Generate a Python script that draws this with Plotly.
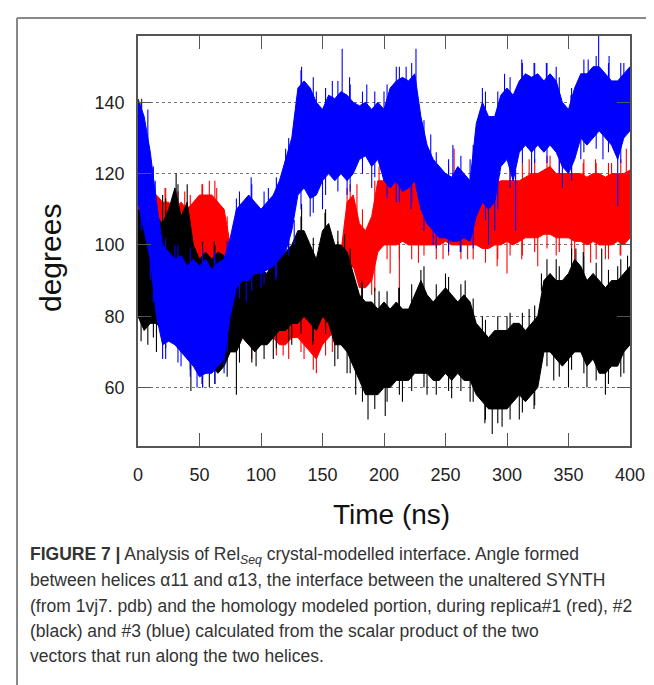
import plotly.graph_objects as go

# time grid (ns) and envelopes, every 5 ns
time_ns = list(range(0, 401, 5))

red_hi = [118, 120, 116, 114, 112, 112, 110, 112, 110, 112, 114, 114, 114, 112, 110, 100,
          96, 94, 92, 92, 92, 90, 88, 88, 88, 90, 90, 88, 86, 84, 88, 94,
          96, 98, 112, 114, 106, 104, 108, 118, 118, 117, 118, 118, 118, 118, 116, 116,
          118, 118, 118, 118, 118, 117, 118, 116, 116, 116, 117, 118, 118, 118, 118, 119,
          120, 120, 121, 122, 120, 120, 120, 120, 120, 119, 120, 120, 119, 120, 120, 120, 121]
red_lo = [100, 98, 94, 92, 92, 92, 90, 90, 88, 92, 94, 94, 94, 94, 92, 80,
          76, 74, 72, 74, 76, 76, 74, 72, 72, 74, 74, 72, 70, 68, 72, 74,
          76, 78, 92, 94, 88, 88, 90, 98, 100, 100, 100, 101, 100, 100, 100, 100,
          100, 100, 101, 100, 100, 100, 100, 100, 99, 99, 100, 100, 101, 100, 101, 102,
          102, 102, 103, 103, 102, 102, 102, 101, 101, 100, 101, 100, 100, 100, 101, 100, 102]

black_hi = [110, 108, 112, 108, 106, 110, 116, 108, 112, 100, 96, 98, 96, 98, 97, 94,
            92, 94, 92, 92, 93, 92, 96, 98, 98, 100, 104, 104, 100, 96, 104, 106,
            100, 100, 98, 92, 86, 84, 84, 82, 84, 82, 84, 82, 82, 86, 90, 86,
            84, 86, 88, 86, 84, 86, 84, 78, 76, 74, 76, 76, 76, 78, 78, 76,
            78, 80, 90, 92, 90, 90, 92, 96, 94, 90, 92, 90, 88, 90, 90, 92, 94]
black_lo = [80, 76, 78, 78, 76, 74, 76, 74, 72, 66, 64, 64, 66, 64, 66, 70,
            70, 74, 72, 70, 72, 72, 74, 76, 76, 78, 78, 80, 78, 76, 80, 78,
            72, 72, 70, 66, 62, 58, 58, 58, 60, 60, 62, 62, 62, 64, 64, 64,
            62, 62, 64, 62, 64, 62, 62, 58, 56, 54, 54, 54, 54, 56, 58, 56,
            58, 60, 70, 70, 68, 66, 68, 70, 70, 66, 68, 64, 64, 66, 66, 70, 72]

blue_hi = [141, 136, 126, 112, 100, 98, 96, 97, 94, 96, 94, 96, 93, 95, 96, 102,
           110, 112, 114, 112, 110, 112, 114, 118, 124, 130, 144, 146, 144, 140, 138, 142,
           141, 143, 142, 140, 139, 140, 138, 140, 138, 144, 146, 147, 146, 148, 136, 128,
           124, 122, 120, 119, 122, 120, 118, 134, 140, 136, 136, 142, 144, 142, 146, 148,
           147, 148, 146, 148, 146, 140, 138, 144, 148, 148, 150, 150, 148, 146, 146, 148, 150]
blue_lo = [112, 104, 96, 80, 72, 73, 72, 70, 68, 66, 63, 64, 64, 66, 68, 80,
           88, 90, 90, 92, 92, 93, 94, 96, 98, 104, 114, 116, 113, 114, 118, 120,
           118, 120, 118, 120, 124, 125, 122, 124, 118, 116, 118, 115, 116, 118, 110, 106,
           104, 102, 102, 101, 101, 102, 101, 108, 112, 110, 112, 122, 124, 118, 126, 128,
           126, 128, 126, 128, 126, 122, 120, 124, 130, 128, 130, 132, 130, 128, 124, 130, 132]

# isolated excursions beyond each band: time (ns) and tip value (degrees)
red_up_t = [2, 8, 22, 38, 52, 58, 64, 170, 178, 196, 200, 220, 238, 245, 257, 262, 282, 305,
            318, 335, 350, 362, 372, 385, 397]
red_up_v = [121, 122, 116, 115, 117, 118, 116, 116, 117, 122, 121, 120, 121, 122, 127, 121, 121,
            122, 124, 125, 124, 123, 124, 123, 127]
red_dn_t = [12, 30, 48, 82, 100, 118, 135, 145, 158, 182, 190, 205, 212.5, 228, 248, 268, 292,
            300, 312, 325, 340, 355, 368, 380, 392]
red_dn_v = [90, 86, 88, 72, 72, 69, 68, 64, 70, 84, 86, 92, 81, 95, 96, 96, 94, 92, 96, 94, 97,
            96, 95, 96, 97]

black_up_t = [5, 20, 31, 40, 62, 84, 100, 118, 133, 152, 168, 182, 196, 212, 230, 250, 266, 280,
              300, 318, 328, 340, 356, 362, 377, 390, 398]
black_up_v = [113, 114, 120, 117, 101, 98, 97, 102, 111.5, 109, 103, 90, 87, 88, 93, 92, 90, 80,
              80, 82, 92, 96, 99, 98, 99, 94, 97]
black_dn_t = [8, 15, 43, 58, 80, 96, 110, 125, 142, 160, 170, 177, 187, 201, 215, 235, 255, 270,
              282, 288, 296, 310, 322, 338, 350, 365, 380, 395]
black_dn_v = [72, 70, 59, 60, 58, 66, 68, 72, 72, 66, 64, 58, 51, 52, 56, 58, 57, 56, 50, 47, 49,
              51, 54, 62, 60, 60, 58, 64]

blue_up_t = [3, 8, 14, 30, 62, 80, 92, 106, 120, 133, 145, 158, 166, 172, 186, 200, 210, 218,
             226, 238, 256, 270, 280, 298, 312, 322, 332, 340, 352, 366, 374.5, 383, 395]
blue_up_v = [141, 138, 118, 100, 98, 113, 119, 116, 127, 150, 143, 146, 155, 147, 145, 143, 150,
             150, 155, 131, 128, 124, 144, 148, 152, 151, 151, 150, 142, 152, 158.6, 153, 151]
blue_dn_t = [10, 20, 35, 48, 52, 70, 88, 100, 112, 127, 140, 150, 170, 190, 210, 222, 240, 262,
             285, 290, 307, 320, 345, 360, 378, 390]
blue_dn_v = [90, 68, 66, 60, 61, 64, 84, 88, 90, 100, 108, 110, 114, 116, 112, 110, 100, 98, 100,
             104, 104, 120, 116, 124, 124, 111]

# finer fringe of noise at the band edges, sampled every 10 ns from 2.5 ns
fringe_t = [2.5 + 10 * j for j in range(40)]
red_fr_up = [123, 118, 116, 115, 114, 117, 118, 108, 98, 96, 95, 92, 93, 94, 89, 95, 101, 117,
             110, 118, 121, 121, 122, 119, 121, 122, 121, 120, 120, 121, 122, 123, 124, 125, 124,
             123, 124, 123, 123, 124]
red_fr_dn = [95, 88, 88, 86, 85, 90, 90, 82, 71, 68, 72, 69, 68, 70, 65, 69, 72, 88, 84, 87, 96,
             96, 96, 97, 96, 97, 96, 96, 95, 96, 97, 97, 98, 99, 98, 97, 97, 96, 96, 97]
black_fr_up = [114, 115, 113, 117, 106, 101, 100, 99, 97, 96, 97, 101, 103, 108, 102, 110, 104, 99,
               89, 88, 87, 88, 89, 94, 89, 91, 89, 85, 79, 80, 81, 81, 83, 96, 94, 99, 97, 95,
               93, 96]
black_fr_dn = [73, 74, 71, 71, 65, 60, 61, 63, 67, 67, 68, 71, 73, 75, 73, 75, 68, 64, 56, 54, 56,
               58, 59, 60, 58, 59, 59, 56, 51, 50, 51, 53, 55, 66, 63, 65, 64, 62, 61, 63]
blue_fr_up = [140, 122, 102, 100, 99, 99, 98, 101, 115, 117, 115, 119, 130, 149, 147, 144, 146,
              145, 143, 143, 145, 150, 151, 135, 126, 124, 125, 128, 143, 143, 147, 151, 151, 151,
              147, 144, 152, 153, 151, 151]
blue_fr_dn = [104, 84, 68, 67, 63, 60, 61, 70, 85, 87, 89, 91, 97, 110, 109, 114, 115, 115, 120,
              119, 113, 112, 112, 104, 99, 98, 98, 99, 107, 110, 116, 123, 123, 123, 120, 118, 126,
              127, 126, 123]

series = [
    ("replica#1", "#ff0000", red_hi, red_lo, red_up_t, red_up_v, red_dn_t, red_dn_v,
     red_fr_up, red_fr_dn),
    ("replica#2", "#000000", black_hi, black_lo, black_up_t, black_up_v, black_dn_t, black_dn_v,
     black_fr_up, black_fr_dn),
    ("replica#3", "#0000ff", blue_hi, blue_lo, blue_up_t, blue_up_v, blue_dn_t, blue_dn_v,
     blue_fr_up, blue_fr_dn),
]

fig = go.Figure()
for name, color, hi, lo, ut, uv, dt, dv, fu, fd in series:
    fig.add_trace(go.Scatter(
        x=time_ns + time_ns[::-1], y=hi + lo[::-1],
        mode="lines", fill="toself", fillcolor=color,
        line=dict(color=color, width=1), name=name, showlegend=False,
        hoverinfo="skip",
    ))
    # each excursion starts a little inside the band at the nearest sample
    sx, sy = [], []
    for t, v in zip(ut, uv):
        k = int(round(t / 5))
        sx += [t, t, None]
        sy += [hi[k] - 3, v, None]
    for t, v in zip(dt, dv):
        k = int(round(t / 5))
        sx += [t, t, None]
        sy += [lo[k] + 3, v, None]
    for t, v in zip(fringe_t, fu):
        sx += [t, t, None]
        sy += [v - 8, v, None]
    for t, v in zip(fringe_t, fd):
        sx += [t, t, None]
        sy += [v + 8, v, None]
    fig.add_trace(go.Scatter(x=sx, y=sy, mode="lines",
                             line=dict(color=color, width=1.1),
                             showlegend=False, hoverinfo="skip"))

axis_font = dict(family="Liberation Sans, Arial, sans-serif", size=18, color="#222")
fig.update_xaxes(range=[0, 400], dtick=50, ticks="inside", ticklen=13, tickwidth=1.2,
                 tickcolor="#555", showline=True, linecolor="#555", linewidth=1.5,
                 mirror="ticks", showgrid=False, zeroline=False, tickfont=axis_font,
                 ticklabelstandoff=12)
fig.update_yaxes(range=[43.6, 158.6], tickvals=[60, 80, 100, 120, 140], ticks="inside",
                 ticklen=13, tickwidth=1.2, tickcolor="#555", showline=True,
                 linecolor="#555", linewidth=1.5, mirror="ticks", showgrid=True,
                 gridcolor="#777", gridwidth=1, griddash="dot", zeroline=False,
                 tickfont=axis_font, ticklabelstandoff=8)

# px -> paper helpers for the plot box (130..622, 28..438)
def px(x):
    return (x - 130) / 492

def py(y):
    return (438 - y) / 410

annotations = [
    dict(text="degrees", x=px(42), y=py(250), textangle=-90,
         font=dict(family="Liberation Sans, Arial, sans-serif", size=30, color="#111")),
    dict(text="Time (ns)", x=px(383), y=py(507),
         font=dict(family="Liberation Sans, Arial, sans-serif", size=28, color="#111")),
]
caption = [
    "<b>FIGURE 7 |</b> Analysis of Rel<sub><i>Seq</i></sub> crystal-modelled interface. Angle formed",
    "between helices α11 and α13, the interface between the unaltered SYNTH",
    "(from 1vj7. pdb) and the homology modeled portion, during replica#1 (red), #2",
    "(black) and #3 (blue) calculated from the scalar product of the two",
    "vectors that run along the two helices.",
]
for i, line in enumerate(caption):
    annotations.append(dict(text=line, x=px(20), y=py(547 + 25.3 * i), xanchor="left",
                            font=dict(family="Liberation Sans, Arial, sans-serif",
                                      size=17.5, color="#333")))
for a in annotations:
    a.update(xref="paper", yref="paper", showarrow=False)
    a.setdefault("xanchor", "center")
    a.setdefault("yanchor", "middle")

fig.update_layout(
    width=654, height=685,
    margin=dict(l=130, r=32, t=28, b=247),
    paper_bgcolor="white", plot_bgcolor="white",
    annotations=annotations,
    shapes=[
        dict(type="line", xref="paper", yref="paper", x0=px(9), x1=px(660),
             y0=py(10), y1=py(10), line=dict(color="#888", width=2)),
        dict(type="line", xref="paper", yref="paper", x0=px(9), x1=px(9),
             y0=py(10), y1=py(690), line=dict(color="#888", width=2)),
    ],
)

fig.write_html("out.html")
